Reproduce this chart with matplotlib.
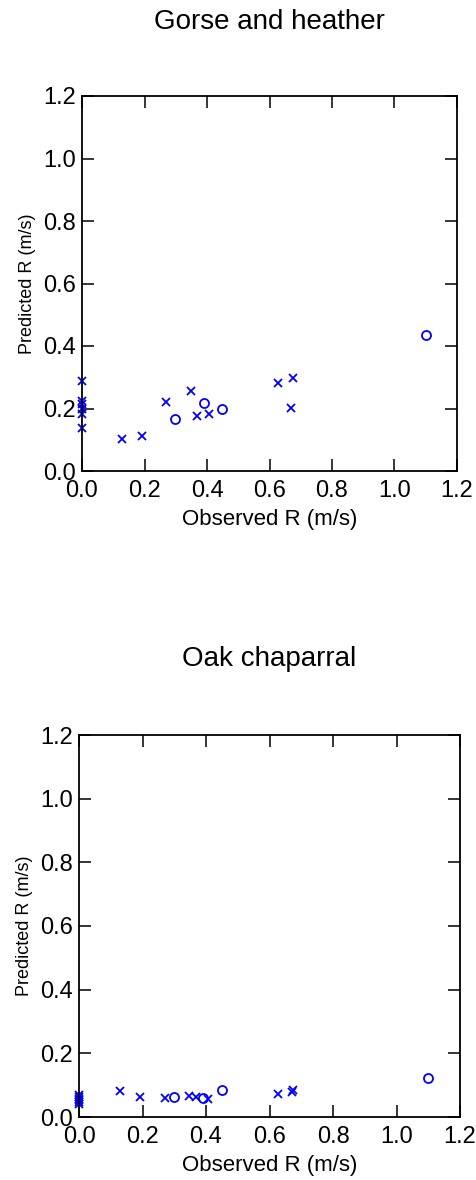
import matplotlib
matplotlib.use("Agg")
import matplotlib.pyplot as plt

plt.rcParams['font.family'] = ['Liberation Sans', 'DejaVu Sans']

# Observed spread rates (m/s): cross series and circle series
obs_x = [0.0, 0.0, 0.0, 0.0, 0.0, 0.0,
         0.128, 0.191, 0.270, 0.348, 0.367, 0.407, 0.628, 0.670, 0.675]
obs_o = [0.299, 0.389, 0.449, 1.100]

# Predicted spread rates, gorse and heather model
gorse_x = [0.287, 0.223, 0.213, 0.200, 0.184, 0.138,
           0.103, 0.113, 0.220, 0.257, 0.175, 0.183, 0.283, 0.203, 0.298]
gorse_o = [0.167, 0.217, 0.197, 0.435]

# Predicted spread rates, oak chaparral model
oak_x = [0.068, 0.062, 0.057, 0.052, 0.047, 0.042,
         0.082, 0.063, 0.061, 0.065, 0.064, 0.056, 0.071, 0.077, 0.086]
oak_o = [0.063, 0.061, 0.084, 0.121]

titles = ["Gorse and heather", "Oak chaparral"]
ticks = [0.0, 0.2, 0.4, 0.6, 0.8, 1.0, 1.2]
tick_labels = ["0.0", "0.2", "0.4", "0.6", "0.8", "1.0", "1.2"]

W, H = 476, 1180
fig = plt.figure(figsize=(W / 100, H / 100), dpi=100)

# axes boxes in pixels: left, top, right, bottom
boxes = [(82, 96, 457, 471), (79, 735, 460, 1117)]
title_y = [22, 659]

for (l, t, r, b), ty, title, px, po in zip(boxes, title_y, titles,
                                          [gorse_x, oak_x], [gorse_o, oak_o]):
    ax = fig.add_axes([l / W, 1 - b / H, (r - l) / W, (b - t) / H])
    ax.plot(obs_x, px, linestyle='none', marker='x', color='#0000ff',
            markersize=5.5, markeredgewidth=1.3, clip_on=False)
    ax.plot(obs_o, po, linestyle='none', marker='o', color='#0000ff',
            markerfacecolor='none', markersize=6.5, markeredgewidth=1.3,
            clip_on=False)
    ax.set_xlim(0, 1.2)
    ax.set_ylim(0, 1.2)
    ax.set_xticks(ticks)
    ax.set_xticklabels(tick_labels)
    ax.set_yticks(ticks)
    ax.set_yticklabels(tick_labels)
    ax.tick_params(direction='in', length=8.5, width=1.1, labelsize=17,
                   top=True, right=True)
    ax.tick_params(axis='x', pad=6.5)
    ax.tick_params(axis='y', pad=4.5)
    for s in ax.spines.values():
        s.set_linewidth(1.3)
    ax.set_xlabel("Observed R (m/s)", fontsize=16, labelpad=5)
    ax.set_ylabel("Predicted R (m/s)", fontsize=13, labelpad=5)
    fig.text((l + r) / 2 / W, 1 - ty / H, title, ha='center', va='center',
             fontsize=20)

fig.savefig("out.png", dpi=100)
